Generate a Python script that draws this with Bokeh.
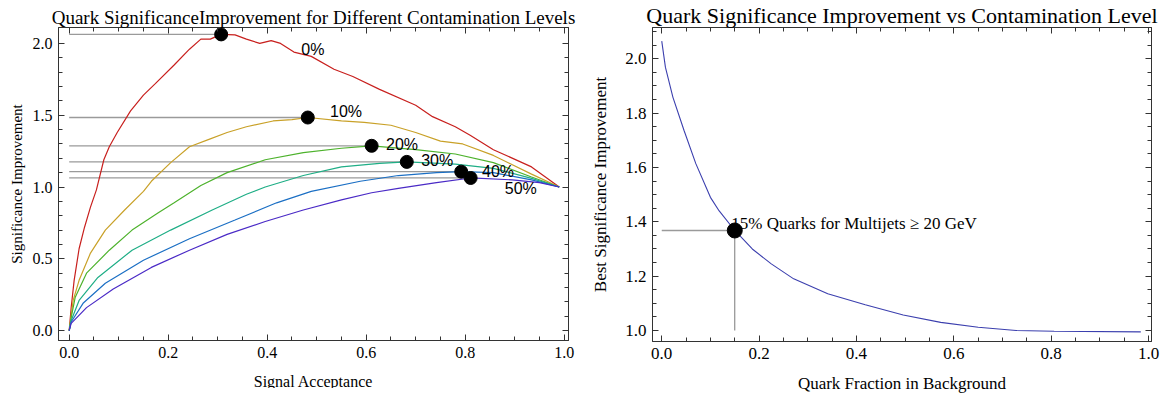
from bokeh.plotting import figure
from bokeh.models import Range1d, LinearAxis, FixedTicker, NumeralTickFormatter, CustomJSTickFormatter, Spacer
from bokeh.layouts import row
from bokeh.embed import file_html
from bokeh.resources import INLINE
from bokeh.core.properties import value

# ---------------- data: left panel ----------------
acc_0 = [0, 0.004, 0.01, 0.02, 0.031, 0.043, 0.055, 0.07, 0.081, 0.097, 0.124, 0.15, 0.174, 0.212, 0.243,
         0.266, 0.285, 0.307, 0.335, 0.358, 0.385, 0.408, 0.427, 0.454, 0.489, 0.535, 0.573, 0.627, 0.70,
         0.734, 0.78, 0.81, 0.857, 0.934, 0.99]
sig_0 = [0, 0.16, 0.35, 0.57, 0.72, 0.86, 0.98, 1.19, 1.28, 1.38, 1.53, 1.64, 1.72, 1.85, 1.96,
         2.03, 2.03, 2.063, 2.06, 2.03, 2.0, 2.02, 2.0, 1.94, 1.91, 1.82, 1.77, 1.68, 1.57,
         1.49, 1.42, 1.36, 1.26, 1.14, 1.0]

acc_10 = [0, 0.008, 0.02, 0.043, 0.073, 0.112, 0.15, 0.166, 0.205, 0.243, 0.281, 0.319, 0.358, 0.412,
          0.45, 0.482, 0.55, 0.596, 0.65, 0.70, 0.75, 0.795, 0.857, 0.934, 0.99]
sig_10 = [0, 0.21, 0.35, 0.54, 0.70, 0.84, 0.97, 1.04, 1.17, 1.28, 1.33, 1.38, 1.42, 1.46,
          1.47, 1.484, 1.46, 1.45, 1.43, 1.38, 1.32, 1.30, 1.22, 1.09, 1.0]

acc_20 = [0, 0.004, 0.012, 0.035, 0.081, 0.127, 0.18, 0.212, 0.266, 0.319, 0.396, 0.473, 0.55, 0.611,
          0.70, 0.78, 0.857, 0.934, 0.99]
sig_20 = [0, 0.09, 0.23, 0.40, 0.56, 0.70, 0.82, 0.89, 1.01, 1.10, 1.19, 1.24, 1.27, 1.287,
          1.26, 1.23, 1.17, 1.07, 1.0]

acc_30 = [0, 0.004, 0.02, 0.058, 0.127, 0.205, 0.289, 0.358, 0.396, 0.473, 0.55, 0.627, 0.682, 0.78,
          0.857, 0.934, 0.99]
sig_30 = [0, 0.07, 0.21, 0.37, 0.56, 0.70, 0.84, 0.95, 1.0, 1.08, 1.14, 1.165, 1.175, 1.16,
          1.13, 1.06, 1.0]

acc_40 = [0, 0.004, 0.028, 0.073, 0.15, 0.243, 0.335, 0.419, 0.489, 0.588, 0.665, 0.742, 0.792, 0.857,
          0.934, 0.99]
sig_40 = [0, 0.06, 0.19, 0.33, 0.49, 0.64, 0.77, 0.89, 0.97, 1.04, 1.08, 1.10, 1.107, 1.10,
          1.05, 1.0]

acc_50 = [0, 0.004, 0.035, 0.089, 0.166, 0.243, 0.319, 0.396, 0.473, 0.55, 0.611, 0.665, 0.742, 0.811,
          0.895, 0.95, 0.99]
sig_50 = [0, 0.05, 0.16, 0.29, 0.44, 0.56, 0.67, 0.76, 0.84, 0.91, 0.96, 0.99, 1.03, 1.063,
          1.05, 1.03, 1.0]

contamination = ["0%", "10%", "20%", "30%", "40%", "50%"]
best_acc = [0.307, 0.482, 0.611, 0.682, 0.792, 0.811]
best_sig = [2.063, 1.484, 1.287, 1.175, 1.107, 1.063]
label_x = [0.469, 0.527, 0.640, 0.711, 0.834, 0.880]
label_y = [1.96, 1.527, 1.296, 1.184, 1.111, 0.989]
colors = ["#c8201e", "#c9a128", "#4db22c", "#1fae86", "#1b6fc4", "#4a2ac6"]

# ---------------- data: right panel ----------------
quark_frac = [0.0, 0.0076, 0.023, 0.046, 0.07, 0.10, 0.118, 0.15, 0.186, 0.225, 0.271, 0.341, 0.418,
              0.496, 0.573, 0.65, 0.728, 0.806, 0.984]
best_impr = [2.065, 1.968, 1.858, 1.735, 1.614, 1.49, 1.44, 1.368, 1.30, 1.245, 1.19, 1.135, 1.095,
             1.057, 1.03, 1.012, 1.0, 0.997, 0.995]
mark_frac = 0.15
mark_impr = 1.368
mark_text = "15% Quarks for Multijets \u2265 20 GeV"

x_major = [0, 0.2, 0.4, 0.6, 0.8, 1.0]
x_minor = [0.05, 0.1, 0.15, 0.25, 0.3, 0.35, 0.45, 0.5, 0.55, 0.65, 0.7, 0.75, 0.85, 0.9, 0.95]
yl_major = [0, 0.5, 1.0, 1.5, 2.0]
yl_minor = [0.1, 0.2, 0.3, 0.4, 0.6, 0.7, 0.8, 0.9, 1.1, 1.2, 1.3, 1.4, 1.6, 1.7, 1.8, 1.9]
yr_major = [1.0, 1.2, 1.4, 1.6, 1.8, 2.0]
yr_minor = [1.05, 1.1, 1.15, 1.25, 1.3, 1.35, 1.45, 1.5, 1.55, 1.65, 1.7, 1.75, 1.85, 1.9, 1.95, 2.05, 2.1]

SERIF = "Liberation Serif"
SANS = "Liberation Sans"
FRAME = "#333333"


def make_fig(title, title_fs, fw, fh, mbr, xr, yr, ymaj, ymin, fs, xlab, ylab,
             xlfs, ylfs, xl_stand, yl_stand):
    p = figure(output_backend="svg", toolbar_location=None,
               frame_width=fw, frame_height=fh,
               min_border_left=0, min_border_right=mbr, min_border_top=0, min_border_bottom=0,
               x_range=xr, y_range=yr, x_axis_location=None, y_axis_location=None)
    p.title.text = title
    p.title.text_font = SERIF
    p.title.text_font_size = title_fs
    p.title.text_font_style = "normal"
    p.title.align = "center"
    p.title.standoff = 0
    p.title.text_color = "black"
    blank = CustomJSTickFormatter(code="return ''")
    bottom = LinearAxis(ticker=FixedTicker(ticks=x_major, minor_ticks=x_minor),
                        formatter=NumeralTickFormatter(format="0.0"), axis_label=xlab)
    left = LinearAxis(ticker=FixedTicker(ticks=ymaj, minor_ticks=ymin),
                      formatter=NumeralTickFormatter(format="0.0"), axis_label=ylab)
    top = LinearAxis(ticker=FixedTicker(ticks=x_major, minor_ticks=x_minor), formatter=blank,
                     major_label_standoff=0, major_label_text_font_size="1px")
    right = LinearAxis(ticker=FixedTicker(ticks=ymaj, minor_ticks=ymin), formatter=blank,
                       major_label_standoff=0, major_label_text_font_size="1px")
    for ax in [bottom, left]:
        ax.major_label_text_font = SERIF
        ax.major_label_text_font_size = fs
        ax.major_label_text_color = "black"
        ax.axis_label_text_font = SERIF
        ax.axis_label_text_font_style = "normal"
        ax.axis_label_text_color = "black"
        ax.major_label_standoff = 6
    bottom.axis_label_text_font_size = xlfs
    left.axis_label_text_font_size = ylfs
    bottom.axis_label_standoff = xl_stand
    left.axis_label_standoff = yl_stand
    for ax in [bottom, left, top, right]:
        ax.major_tick_in = 6
        ax.major_tick_out = 0
        ax.minor_tick_in = 4
        ax.minor_tick_out = 0
        ax.axis_line_color = FRAME
        ax.major_tick_line_color = FRAME
        ax.minor_tick_line_color = FRAME
    p.add_layout(bottom, "below")
    p.add_layout(left, "left")
    p.add_layout(top, "above")
    p.add_layout(right, "right")
    p.outline_line_color = FRAME
    p.xgrid.visible = False
    p.ygrid.visible = False
    return p


# ---------------- left figure ----------------
p1 = make_fig("Quark SignificanceImprovement for Different Contamination Levels", "19px",
              510, 313, 20, Range1d(-0.0216, 1.0087), Range1d(-0.069, 2.111),
              yl_major, yl_minor, "16px", "Signal Acceptance", "Significance Improvement",
              "16px", "15px", 12, 5)

curves = [(acc_0, sig_0), (acc_10, sig_10), (acc_20, sig_20), (acc_30, sig_30), (acc_40, sig_40), (acc_50, sig_50)]
for i in range(6):
    p1.segment(x0=[0.0], y0=[best_sig[i]], x1=[best_acc[i]], y1=[best_sig[i]],
               line_color="#9a9a9a", line_width=1.3)
for i, (xs, ys) in enumerate(curves):
    p1.line(xs, ys, line_color=colors[i], line_width=1.2)
p1.scatter(best_acc, best_sig, size=13, fill_color="black", line_color="black")
p1.text(x=label_x, y=label_y, text=contamination, text_font=value(SANS), text_font_size="16px",
        text_baseline="middle", text_align="left", text_color="black")

# ---------------- right figure ----------------
p2 = make_fig("Quark Significance Improvement vs Contamination Level", "22px",
              499, 314, 12, Range1d(-0.019, 1.006), Range1d(0.9595, 2.115),
              yr_major, yr_minor, "17px", "Quark Fraction in Background", "Best Significance Improvement",
              "17px", "17px", 12, 12)

p2.line(quark_frac, best_impr, line_color="#3b3fae", line_width=1.1)
p2.segment(x0=[0.0], y0=[mark_impr], x1=[mark_frac], y1=[mark_impr], line_color="#9a9a9a", line_width=1.3)
p2.segment(x0=[mark_frac], y0=[mark_impr], x1=[mark_frac], y1=[1.0], line_color="#7a7a7a", line_width=1.0)
p2.scatter([mark_frac], [mark_impr], size=15, fill_color="black", line_color="black")
p2.text(x=[0.143], y=[1.394], text=[mark_text], text_font=value(SERIF), text_font_size="17px",
        text_baseline="alphabetic", text_align="left", text_color="black")

layout = row(Spacer(width=5), p1, p2)
open("out.html", "w").write(file_html(layout, INLINE))
